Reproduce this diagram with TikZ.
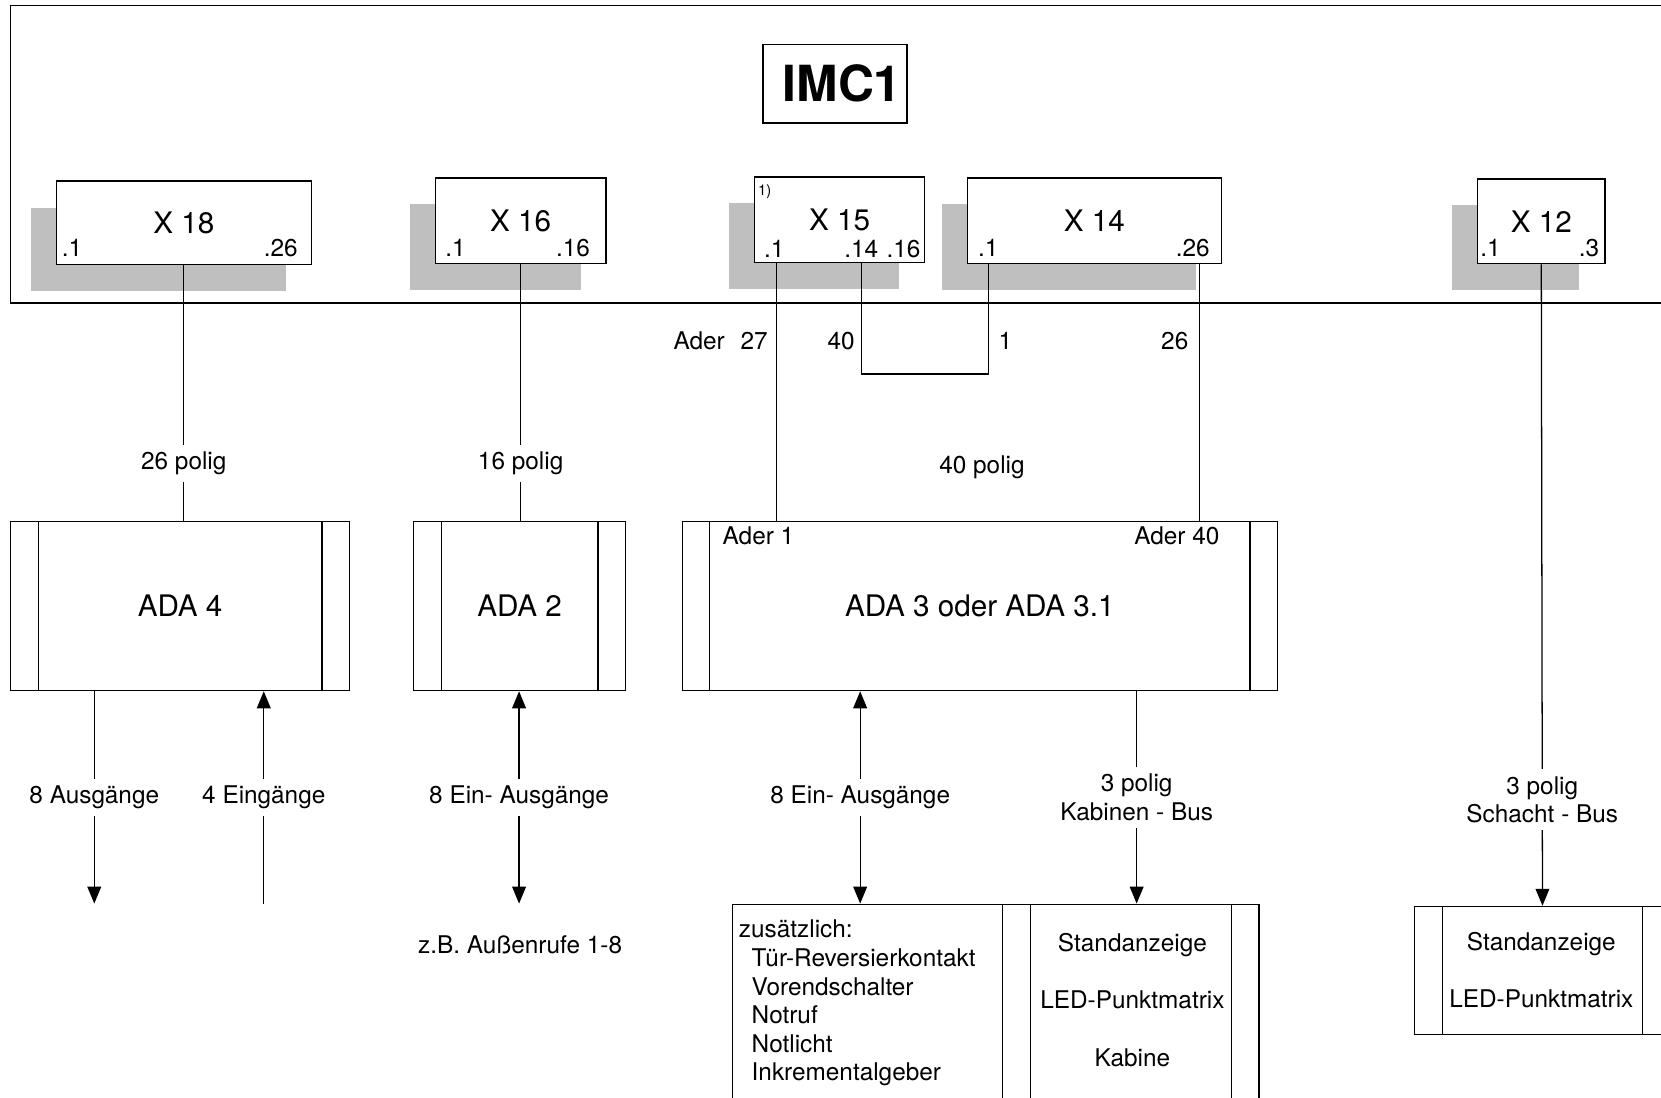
\documentclass[tikz,border=0pt]{standalone}
\usepackage{fontspec}
\setmainfont{TeX Gyre Heros}
\usetikzlibrary{arrows.meta,shadows}

\newcommand{\lbsize}{\fontsize{11.5}{13.5}\selectfont}
\newcommand{\bigsize}{\fontsize{14}{16}\selectfont}

\begin{document}
\begin{tikzpicture}[x=0.5pt, y=-0.5pt, line width=0.6pt,
    plug/.style={draw, fill=white, font=\bigsize, inner sep=0pt,
      drop shadow={shadow xshift=-12pt, shadow yshift=-12.5pt, fill=black!25, opacity=1}},
    pinlbl/.style={font=\lbsize, inner sep=1pt},
    adabox/.style={draw, inner sep=0pt, path picture={
      \draw ([xshift=13pt]path picture bounding box.north west) -- ([xshift=13pt]path picture bounding box.south west);
      \draw ([xshift=-13pt]path picture bounding box.north east) -- ([xshift=-13pt]path picture bounding box.south east);}},
    lbl/.style={font=\lbsize, fill=white, align=center},
    txt/.style={font=\lbsize},
    arr/.style={-{Triangle[length=8pt,width=6.5pt]}},
    darr/.style={{Triangle[length=8pt,width=6.5pt]}-{Triangle[length=8pt,width=6.5pt]}}]

    \useasboundingbox (0,0) rectangle (1568,1036);

    \draw[line width=0.7pt] (10,5) rectangle (1600,286);
    \node[draw, line width=0.9pt, minimum width=68pt, minimum height=37pt, inner sep=0pt, font=\fontsize{23.5}{26}\selectfont\bfseries] (imc) at (788,79) {\hspace*{7pt}IMC1};

    \node[plug, minimum width=120.5pt, minimum height=39.5pt] (x18) at (173.5,210.5) {X 18};
    \node[pinlbl] (x18a) at (68,234) {.1};
    \node[pinlbl] (x18b) at (265,234) {.26};

    \node[plug, minimum width=80.5pt, minimum height=40.5pt] (x16) at (491.5,208.5) {X 16};
    \node[pinlbl] (x16a) at (430,234) {.1};
    \node[pinlbl] (x16b) at (541,234) {.16};

    \node[plug, minimum width=80.5pt, minimum height=40.5pt] (x15) at (792.5,207.5) {X 15};
    \node[font=\fontsize{7}{8}\selectfont] (fn) at (722,181) {1)};
    \node[pinlbl] (x15a) at (731,235) {.1};
    \node[pinlbl] (x15b) at (813,235) {.14};
    \node[pinlbl] (x15c) at (853,235) {.16};

    \node[plug, minimum width=120pt, minimum height=40.5pt] (x14) at (1033,208.5) {X 14};
    \node[pinlbl] (x14a) at (933,234) {.1};
    \node[pinlbl] (x14b) at (1126,234) {.26};

    \node[plug, minimum width=60pt, minimum height=40pt] (x12) at (1455,209) {X 12};
    \node[pinlbl] (x12a) at (1407,234) {.1};
    \node[pinlbl] (x12b) at (1500,234) {.3};

    \node[adabox, minimum width=160pt, minimum height=80pt, font=\bigsize] (ada4) at (170,572) {ADA 4};
    \node[adabox, minimum width=100pt, minimum height=80pt, font=\bigsize] (ada2) at (490.5,572) {ADA 2};
    \node[adabox, minimum width=281pt, minimum height=80pt, font=\bigsize] (ada3) at (925,572) {ADA 3 oder ADA 3.1};
    \node[txt] (ader1) at (716,506) {Ader 1};
    \node[txt] (ader40) at (1111,506) {Ader 40};

    \draw (x18.south) -- node[lbl, pos=0.777] (l18) {26 polig} (x18.south |- ada4.north);
    \draw (x16.south) -- node[lbl, pos=0.778] (l16) {16 polig} (x16.south |- ada2.north);

    \coordinate (a1) at (733,0);
    \coordinate (b1) at (813,353);
    \coordinate (b2) at (933,353);
    \coordinate (a40) at (1132,0);
    \draw (x15.south -| a1) -- (ada3.north -| a1);
    \draw (x15.south -| b1) -- (b1) -- (b2) -- (x14.south -| b2);
    \draw (x14.south -| a40) -- (ada3.north -| a40);
    \node[txt, anchor=east] (ader27) at (732,322) {Ader\hspace{7.5pt}27};
    \node[txt] (n40) at (794,322) {40};
    \node[txt] (n1) at (949,322) {1};
    \node[txt] (n26) at (1109,322) {26};
    \node[txt] (pol40) at (927,441) {40 polig};

    \node[draw, minimum width=127.5pt, minimum height=125pt, anchor=north west] (zusatz) at (691,853) {};
    \node[txt, align=left, anchor=north west, inner sep=0pt] (zusatztext) at (697,868) {zusätzlich:\\\hspace*{6pt}Tür-Reversierkontakt\\\hspace*{6pt}Vorendschalter\\\hspace*{6pt}Notruf\\\hspace*{6pt}Notlicht\\\hspace*{6pt}Inkrementalgeber};
    \node[adabox, minimum width=121pt, minimum height=125pt, anchor=north west] (kabine) at (946,853) {};
    \node[align=center, font=\fontsize{11.5}{27}\selectfont] (kabtext) at (1069,944) {Standanzeige\\LED-Punktmatrix\\Kabine};
    \node[adabox, minimum width=120.5pt, minimum height=60.5pt, anchor=north west] (disp) at (1335,855) {};
    \node[align=center, font=\fontsize{11.5}{27}\selectfont] (disptext) at (1455,916) {Standanzeige\\LED-Punktmatrix};

    \coordinate (o4) at (89,853);
    \coordinate (i4) at (249,853);
    \coordinate (o2) at (490,853);
    \coordinate (o3) at (812,0);
    \coordinate (o31) at (1073,0);
    \draw[arr] (ada4.south -| o4) -- node[lbl] (lo4) {8 Ausgänge} (o4);
    \draw[arr] (i4) -- node[lbl] (li4) {4 Eingänge} (ada4.south -| i4);
    \draw[darr] (ada2.south -| o2) -- node[lbl] (lo2) {8 Ein- Ausgänge} (o2);
    \node[txt] (bsp) at (491,892) {z.B. Außenrufe 1-8};
    \draw[darr] (ada3.south -| o3) -- node[lbl] (lo3) {8 Ein- Ausgänge} (zusatz.north -| o3);
    \draw[arr] (ada3.south -| o31) -- node[lbl] (lkab) {3 polig\\Kabinen - Bus} (kabine.north -| o31);
    \draw[arr] (x12.south) -- node[lbl, pos=0.835] (l12) {3 polig\\Schacht - Bus} (disp.north);
\end{tikzpicture}
\end{document}
